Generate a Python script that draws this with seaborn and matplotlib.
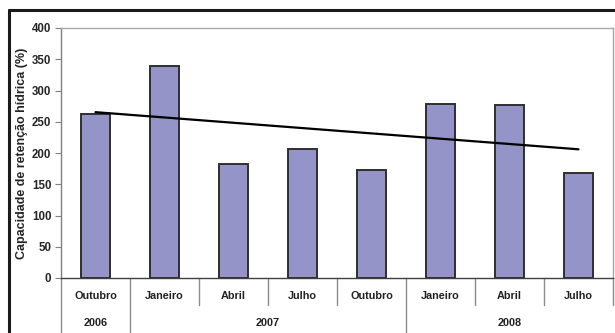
import numpy as np
import pandas as pd
import matplotlib
matplotlib.use("Agg")
import matplotlib.pyplot as plt
import matplotlib.transforms as mtransforms
import seaborn as sns

months = ["Outubro", "Janeiro", "Abril", "Julho", "Outubro", "Janeiro", "Abril", "Julho"]
years = ["2006", "2007", "2007", "2007", "2007", "2008", "2008", "2008"]
values = [262, 339, 182, 206, 173, 278, 277, 168]
yticks = [0, 50, 100, 150, 200, 250, 300, 350, 400]
ylabel = "Capacidade de retenção hídrica (%)"

sns.set_theme(style="white")
plt.rcParams["font.family"] = ["Liberation Sans Narrow", "Liberation Sans", "DejaVu Sans"]

keys = [f"{m} {y} #{i}" for i, (m, y) in enumerate(zip(months, years))]
df = pd.DataFrame({"key": keys, "value": values})

W, H = 615, 333
fig = plt.figure(figsize=(W / 100, H / 100), dpi=100)
fig.patch.set_facecolor("white")
ax = fig.add_axes([61 / W, 1 - 278 / H, (613 - 61) / W, (278 - 28) / H])

sns.barplot(data=df, x="key", y="value", order=keys, color="#9494c8",
            saturation=1, width=0.42, edgecolor="#2f2f2f", linewidth=1.4, ax=ax)

# linear trend line
xs = np.arange(len(values))
sns.regplot(x=xs, y=np.array(values, dtype=float), ax=ax, ci=None, scatter=False,
            truncate=True, color="black", line_kws={"linewidth": 1.6})

ax.set_xlim(-0.5, len(values) - 0.5)
ax.set_ylim(0, 400)
ax.set_yticks(yticks)
ax.set_yticklabels([str(t) for t in yticks], fontsize=8.3, fontweight="bold")
ax.set_xticks([])
ax.set_xlabel("")
ax.set_ylabel(ylabel, fontsize=9, fontweight="bold")
ax.yaxis.set_label_coords((28 - 61) / 552, 0.5)
ax.tick_params(axis="y", left=True, length=4, width=0.8, color="#808080", pad=3)

for s in ["top", "right"]:
    ax.spines[s].set_visible(True)
    ax.spines[s].set_color("#a8a8a8")
    ax.spines[s].set_linewidth(1.0)
ax.spines["left"].set_color("#808080")
ax.spines["left"].set_linewidth(1.0)
ax.spines["bottom"].set_color("#404040")
ax.spines["bottom"].set_linewidth(1.0)

# multi-level category axis
trans = mtransforms.blended_transform_factory(ax.transData, ax.transAxes)
month_y = (278 - 296) / 250
year_y = (278 - 323) / 250
short_sep = (278 - 305) / 250
long_sep = (278 - 340) / 250
for i, m in enumerate(months):
    ax.text(i, month_y, m, transform=trans, ha="center", va="center",
            fontsize=7.8, fontweight="bold", color="#222222")
# year groups
groups = []
for i, y in enumerate(years):
    if groups and groups[-1][0] == y:
        groups[-1][2] = i
    else:
        groups.append([y, i, i])
for y, a, b in groups:
    ax.text((a + b) / 2, year_y, y, transform=trans, ha="center", va="center",
            fontsize=7.8, fontweight="bold", color="#222222")
year_bounds = {a - 0.5 for _, a, _ in groups}
for k in range(len(months) + 1):
    xb = k - 0.5
    bottom = long_sep if (xb in year_bounds or k == 0) else short_sep
    if k == len(months):
        bottom = short_sep
    ax.plot([xb, xb], [0, bottom], transform=trans, color="#8a8a8a",
            linewidth=1.0, clip_on=False)

# outer frame
fig.add_artist(plt.Line2D([8.5 / W, 8.5 / W], [0, 1 - 10 / H], transform=fig.transFigure,
                          color="#1a1a1a", linewidth=2.2))
fig.add_artist(plt.Line2D([8.5 / W, 1], [1 - 10 / H, 1 - 10 / H], transform=fig.transFigure,
                          color="#1a1a1a", linewidth=2.2))

fig.savefig("out.png", dpi=100)
